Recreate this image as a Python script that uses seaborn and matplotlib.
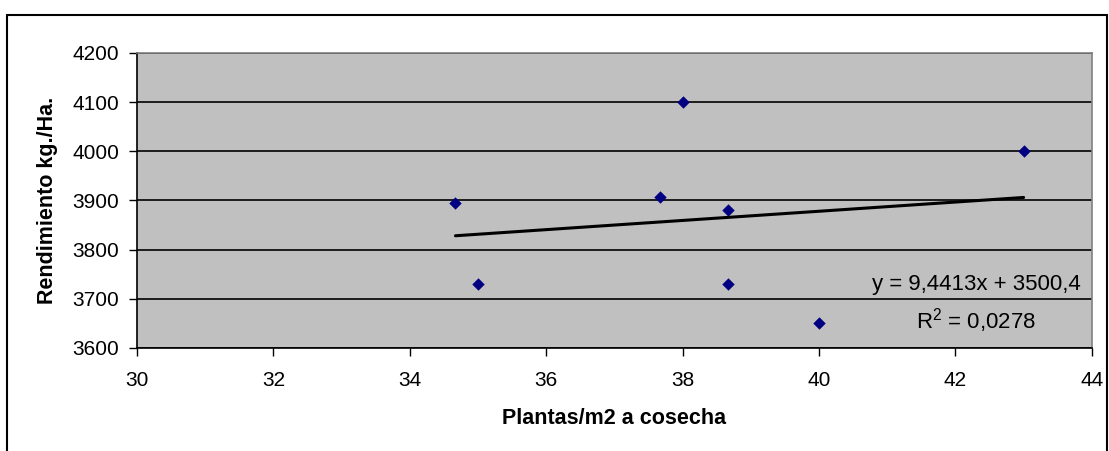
import numpy as np
import pandas as pd
import matplotlib
matplotlib.use("Agg")
import matplotlib.pyplot as plt
import seaborn as sns
from matplotlib.patches import Rectangle

plantas = [34.67, 35.0, 37.67, 38.0, 38.67, 38.67, 40.0, 43.0]
rendimiento = [3894, 3730, 3907, 4100, 3880, 3730, 3650, 4000]
x_ticks = [30, 32, 34, 36, 38, 40, 42, 44]
y_ticks = [3600, 3700, 3800, 3900, 4000, 4100, 4200]
eq_text = "y = 9,4413x + 3500,4"
r2_text = "R$^2$ = 0,0278"
x_label = "Plantas/m2 a cosecha"
y_label = "Rendimiento kg./Ha."

df = pd.DataFrame({"x": plantas, "y": rendimiento})

sns.set_theme(style="white")
plt.rcParams["font.family"] = ["Liberation Sans", "DejaVu Sans"]
plt.rcParams["mathtext.fontset"] = "custom"
plt.rcParams["mathtext.rm"] = "Liberation Sans"
plt.rcParams["text.color"] = "black"
plt.rcParams["axes.labelcolor"] = "black"

fig = plt.figure(figsize=(11.09, 4.51), dpi=100)
ax = fig.add_axes([0.1235, 0.2284, 0.861, 0.6541])
ax.set_facecolor("#C0C0C0")

sns.regplot(data=df, x="x", y="y", ax=ax, ci=None, truncate=True,
            scatter=False, line_kws=dict(color="black", lw=2.2, zorder=3))
sns.scatterplot(data=df, x="x", y="y", ax=ax, marker="D", s=40,
                color="#000080", edgecolor="#000080", linewidth=0, zorder=4)

ax.set_xlim(30, 44)
ax.set_ylim(3600, 4200)
ax.set_xticks(x_ticks)
ax.set_yticks(y_ticks)
ax.grid(axis="y", color="black", lw=1.2, zorder=1)
ax.grid(axis="x", visible=False)
ax.set_axisbelow(True)
ax.tick_params(axis="both", direction="out", length=6, width=1, color="black",
               labelsize=15, labelcolor="black", bottom=True, left=True)
ax.tick_params(axis="x", pad=10.5)
ax.tick_params(axis="y", pad=7)
for s in ["left", "bottom"]:
    ax.spines[s].set_color("black")
    ax.spines[s].set_linewidth(1.2)
for s in ["top", "right"]:
    ax.spines[s].set_color("#808080")
    ax.spines[s].set_linewidth(1.2)

ax.set_xlabel(x_label, fontsize=15.5, fontweight="bold", labelpad=13)
ax.set_ylabel(y_label, fontsize=15.5, fontweight="bold", labelpad=10)

ax.text(0.988, 0.214, eq_text, transform=ax.transAxes, ha="right", va="center",
        fontsize=16)
ax.text(0.879, 0.092, r2_text, transform=ax.transAxes, ha="center", va="center",
        fontsize=16)

fig.patches.append(Rectangle((7 / 1109, -0.01), 1100 / 1109, 1 - 15 / 451 + 0.01,
                             transform=fig.transFigure, fill=False,
                             edgecolor="black", lw=1.5))

fig.savefig("out.png", dpi=100, facecolor="white")
